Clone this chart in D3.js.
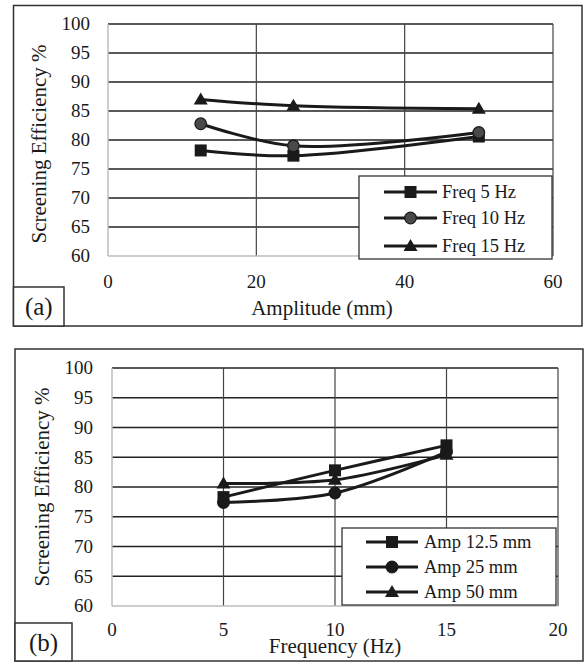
<!DOCTYPE html>
<html><head><meta charset="utf-8">
<script src="https://cdn.jsdelivr.net/npm/d3@7"></script>
<style>body{margin:0;background:#fff}svg{display:block}</style>
</head><body>
<script>
// Panel (a): efficiency vs amplitude
const amplitudes = [12.5, 25, 50];
const freq5 = [78.2, 77.3, 80.6];
const freq10 = [82.8, 79.0, 81.3];
const freq15 = [87.0, 85.9, 85.4];
const seriesA = ["Freq 5 Hz", "Freq 10 Hz", "Freq 15 Hz"];
// Panel (b): efficiency vs frequency
const frequencies = [5, 10, 15];
const amp125 = [78.3, 82.8, 87.0];
const amp25 = [77.4, 79.0, 85.9];
const amp50 = [80.6, 81.2, 85.4];
const seriesB = ["Amp 12.5 mm", "Amp 25 mm", "Amp 50 mm"];
const yTicks = [60, 65, 70, 75, 80, 85, 90, 95, 100];
const xTicksA = [0, 20, 40, 60];
const xTicksB = [0, 5, 10, 15, 20];

const svg = d3.select("body").append("svg").attr("width", 586).attr("height", 662)
  .attr("font-family", "Liberation Serif");
const FS = 19, TFS = 21, INK = "#1a1a1a";

function panel(cfg) {
  const g = svg.append("g");
  g.append("rect").attr("x", cfg.frame[0]).attr("y", cfg.frame[1])
    .attr("width", cfg.frame[2] - cfg.frame[0]).attr("height", cfg.frame[3] - cfg.frame[1])
    .attr("fill", "none").attr("stroke", "#333").attr("stroke-width", 1.5);
  const x = d3.scaleLinear().domain(cfg.xDomain).range([cfg.plot[0], cfg.plot[1]]);
  const y = d3.scaleLinear().domain([60, 100]).range([cfg.plot[3], cfg.plot[2]]);
  g.selectAll(".hg").data(yTicks.filter(t => t > 60)).join("line")
    .attr("x1", cfg.plot[0]).attr("x2", cfg.plot[1])
    .attr("y1", d => y(d)).attr("y2", d => y(d))
    .attr("stroke", "#222").attr("stroke-width", 1.3);
  g.selectAll(".vg").data(cfg.xTicks.filter(t => t > cfg.xDomain[0])).join("line")
    .attr("x1", d => x(d)).attr("x2", d => x(d))
    .attr("y1", cfg.plot[2]).attr("y2", cfg.plot[3])
    .attr("stroke", "#444").attr("stroke-width", 1.2);
  g.append("line").attr("x1", cfg.plot[0]).attr("x2", cfg.plot[0]).attr("y1", cfg.plot[2]).attr("y2", cfg.plot[3])
    .attr("stroke", "#bdbdbd").attr("stroke-width", 1.5);
  g.append("line").attr("x1", cfg.plot[0]).attr("x2", cfg.plot[1]).attr("y1", cfg.plot[3]).attr("y2", cfg.plot[3])
    .attr("stroke", "#bdbdbd").attr("stroke-width", 1.5);
  g.selectAll(".yt").data(yTicks).join("text")
    .attr("x", cfg.yLabelX).attr("y", d => y(d)).attr("dy", "0.34em")
    .attr("text-anchor", "end").attr("font-size", FS).attr("fill", INK).text(d => d);
  g.selectAll(".xt").data(cfg.xTicks).join("text")
    .attr("x", d => x(d)).attr("y", cfg.xLabelY).attr("dy", "0.34em")
    .attr("text-anchor", "middle").attr("font-size", FS).attr("fill", INK).text(d => d);
  g.append("text").attr("x", cfg.xTitle[0]).attr("y", cfg.xTitle[1])
    .attr("text-anchor", "middle").attr("font-size", TFS).attr("fill", INK).text(cfg.xTitleText);
  g.append("text").attr("transform", `translate(${cfg.yTitle[0]},${cfg.yTitle[1]}) rotate(-90)`)
    .attr("dy", "0.34em").attr("text-anchor", "middle").attr("font-size", TFS).attr("fill", INK)
    .text("Screening Efficiency %");
  g.append("rect").attr("x", cfg.tag[0]).attr("y", cfg.tag[1])
    .attr("width", cfg.tag[2] - cfg.tag[0]).attr("height", cfg.tag[3] - cfg.tag[1])
    .attr("fill", "#fff").attr("stroke", "#333").attr("stroke-width", 1.5);
  g.append("text").attr("x", (cfg.tag[0] + cfg.tag[2]) / 2).attr("y", (cfg.tag[1] + cfg.tag[3]) / 2)
    .attr("dy", "0.34em").attr("text-anchor", "middle").attr("font-size", 25).attr("fill", INK).text(cfg.tagText);

  const line = d3.line().x(d => x(d[0])).y(d => y(d[1])).curve(d3.curveCatmullRom.alpha(0.5));
  const shapes = ["square", "circle", "triangle"];
  function marker(sel, shape, cx, cy, circFill) {
    if (shape === "square") {
      sel.append("rect").attr("x", cx - 6).attr("y", cy - 6).attr("width", 12).attr("height", 12).attr("fill", INK);
    } else if (shape === "circle") {
      sel.append("circle").attr("cx", cx).attr("cy", cy).attr("r", 5.8).attr("fill", circFill)
        .attr("stroke", INK).attr("stroke-width", 1.3);
    } else {
      sel.append("path").attr("d", `M${cx},${cy - 7}L${cx + 7},${cy + 5}L${cx - 7},${cy + 5}Z`).attr("fill", INK);
    }
  }
  cfg.series.forEach(vals => {
    const pts = cfg.xs.map((xv, j) => [xv, vals[j]]);
    g.append("path").attr("d", line(pts)).attr("fill", "none").attr("stroke", INK).attr("stroke-width", 3);
  });
  cfg.series.forEach((vals, i) => {
    cfg.xs.forEach((xv, j) => marker(g, shapes[i], x(xv), y(vals[j]), cfg.circFill));
  });
  const L = cfg.legend;
  g.append("rect").attr("x", L.box[0]).attr("y", L.box[1]).attr("width", L.box[2] - L.box[0]).attr("height", L.box[3] - L.box[1])
    .attr("fill", "#fff").attr("stroke", "#333").attr("stroke-width", 1.3);
  cfg.names.forEach((name, i) => {
    const yy = L.ys[i];
    g.append("line").attr("x1", L.line[0]).attr("x2", L.line[1]).attr("y1", yy).attr("y2", yy)
      .attr("stroke", INK).attr("stroke-width", 3);
    marker(g, shapes[i], (L.line[0] + L.line[1]) / 2, yy, cfg.circFill);
    g.append("text").attr("x", L.textX).attr("y", yy).attr("dy", "0.34em").attr("font-size", 18.5)
      .attr("fill", INK).text(name);
  });
}

panel({
  frame: [13.5, 5.5, 582, 326], plot: [108, 553, 24, 256], xDomain: [0, 60], xTicks: xTicksA,
  yLabelX: 90, xLabelY: 282, xTitle: [322, 315], xTitleText: "Amplitude (mm)", yTitle: [39, 144],
  tag: [13.5, 287, 64, 326], tagText: "(a)", xs: amplitudes, series: [freq5, freq10, freq15], names: seriesA,
  circFill: "#4a4a4a",
  legend: { box: [359, 176, 552, 259], ys: [192, 218, 246], line: [384, 437], textX: 442 }
});
panel({
  frame: [15, 349, 583, 661], plot: [112, 558, 368, 606], xDomain: [0, 20], xTicks: xTicksB,
  yLabelX: 93, xLabelY: 630, xTitle: [335, 653], xTitleText: "Frequency (Hz)", yTitle: [42, 487],
  tag: [15, 623, 72, 661], tagText: "(b)", xs: frequencies, series: [amp125, amp25, amp50], names: seriesB,
  circFill: "#1a1a1a",
  legend: { box: [342, 528, 556, 605], ys: [542, 567, 592], line: [366, 418], textX: 424 }
});
</script>
</body></html>
